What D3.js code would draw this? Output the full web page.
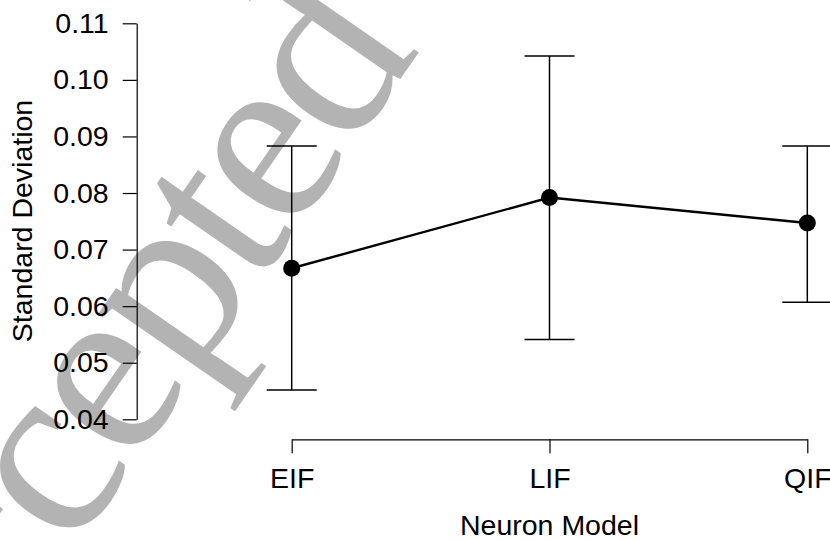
<!DOCTYPE html>
<html>
<head>
<meta charset="utf-8">
<script src="https://cdn.jsdelivr.net/npm/d3@7"></script>
<style>
  html, body { margin: 0; padding: 0; background: #fff; }
  svg { display: block; }
  .axis text { font-family: "Liberation Sans", Arial, sans-serif; font-size: 28.5px; fill: #000; }
  .axis path, .axis line { stroke: #000; stroke-width: 1.2; }
  .watermark { font-family: "Liberation Serif", "Times New Roman", serif; font-size: 250px; letter-spacing: -8px; fill: #b3b3b3; }
  .title { font-family: "Liberation Sans", Arial, sans-serif; font-size: 28.5px; fill: #000; }
</style>
</head>
<body>
<div id="graph"></div>
<script>
// neuron models and their standard deviation (mean, lower, upper)
const models = ['EIF', 'LIF', 'QIF'];
const sdMean = [0.0667, 0.0792, 0.0747];
const sdLow = [0.0452, 0.0541, 0.0607];
const sdHigh = [0.0883, 0.1042, 0.0883];
const yTicks = [0.04, 0.05, 0.06, 0.07, 0.08, 0.09, 0.10, 0.11];

const width = 830;
const height = 540;

const svg = d3.select('#graph').append('svg')
    .attr('width', width)
    .attr('height', height);

// watermark behind the plot
svg.append('text')
    .attr('class', 'watermark')
    .attr('transform', 'translate(-85,780) rotate(-55.3)')
    .text('Accepted');

const x = d3.scalePoint().domain(models).range([291.7, 807.3]);
const y = d3.scaleLinear().domain([0.04, 0.11]).range([419.3, 23.3]);

const data = models.map((m, i) => ({ model: m, mean: sdMean[i], low: sdLow[i], high: sdHigh[i] }));

// axes
svg.append('g')
    .attr('class', 'axis')
    .attr('transform', 'translate(136.7,0)')
    .call(d3.axisLeft(y).tickValues(yTicks).tickFormat(d3.format('.2f'))
        .tickSizeInner(14).tickSizeOuter(0).tickPadding(14))
    .call(g => g.attr('font-family', null).attr('font-size', null));

svg.append('g')
    .attr('class', 'axis')
    .attr('transform', 'translate(0,439.3)')
    .call(d3.axisBottom(x).tickSizeInner(14).tickSizeOuter(0).tickPadding(14))
    .call(g => g.attr('font-family', null).attr('font-size', null));

// axis titles
svg.append('text')
    .attr('class', 'title')
    .attr('transform', 'translate(32,221) rotate(-90)')
    .attr('text-anchor', 'middle')
    .text('Standard Deviation');

svg.append('text')
    .attr('class', 'title')
    .attr('x', 549.5)
    .attr('y', 535)
    .attr('text-anchor', 'middle')
    .text('Neuron Model');

// error bars
const capW = 25;
const bars = svg.append('g').attr('stroke', '#000').attr('stroke-width', 1.5);

bars.selectAll('.stem').data(data).enter().append('line')
    .attr('x1', d => x(d.model)).attr('x2', d => x(d.model))
    .attr('y1', d => y(d.low)).attr('y2', d => y(d.high));

bars.selectAll('.cap-top').data(data).enter().append('line')
    .attr('x1', d => x(d.model) - capW).attr('x2', d => x(d.model) + capW)
    .attr('y1', d => y(d.high)).attr('y2', d => y(d.high));

bars.selectAll('.cap-bot').data(data).enter().append('line')
    .attr('x1', d => x(d.model) - capW).attr('x2', d => x(d.model) + capW)
    .attr('y1', d => y(d.low)).attr('y2', d => y(d.low));

// mean line and points
const line = d3.line().x(d => x(d.model)).y(d => y(d.mean));

svg.append('path')
    .datum(data)
    .attr('d', line)
    .attr('fill', 'none')
    .attr('stroke', '#000')
    .attr('stroke-width', 2.4);

svg.selectAll('.dot').data(data).enter().append('circle')
    .attr('cx', d => x(d.model))
    .attr('cy', d => y(d.mean))
    .attr('r', 8.5)
    .attr('fill', '#000');
</script>
</body>
</html>
